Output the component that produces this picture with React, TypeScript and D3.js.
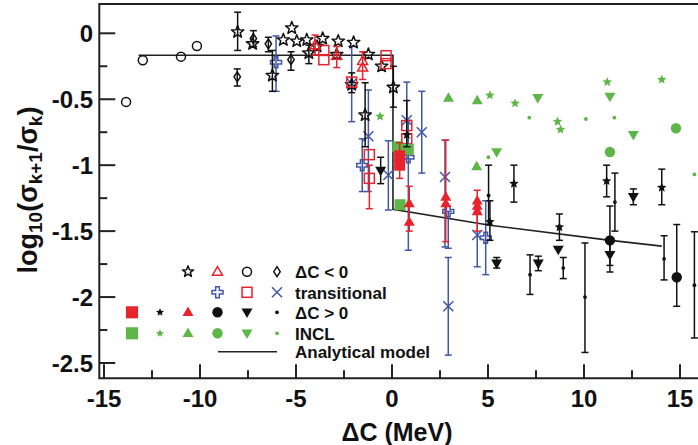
import React from 'react';
import * as d3 from 'd3';

type P = [number, number, number?, number?];

// ---- axis ticks ----
const xTicks = [-15, -10, -5, 0, 5, 10, 15];
const xTickLabels = ['-15', '-10', '-5', '0', '5', '10', '15'];
const xMinor = [-12.5, -7.5, -2.5, 2.5, 7.5, 12.5];
const yTicks = [0, -0.5, -1, -1.5, -2, -2.5];
const yTickLabels = ['0', '-0.5', '-1', '-1.5', '-2', '-2.5'];
const yMinor = [-0.25, -0.75, -1.25, -1.75, -2.25];

// ---- data: [x, y, errLow, errHigh] ----
// ΔC < 0
const negStar: P[] = [
  [-8.04, 0.01, -0.13, 0.16], [-7.26, -0.08], [-6.23, -0.32, -0.44, -0.13], [-5.66, -0.05],
  [-5.22, 0.04], [-4.96, -0.06], [-4.44, -0.05], [-4.33, -0.15, -0.23, -0.09], [-3.9, -0.1],
  [-3.61, -0.04], [-2.8, -0.06], [-2.88, -0.16], [-2.0, -0.07], [-2.1, -0.39, -0.45, -0.3],
  [-1.23, -0.16], [-0.54, -0.25], [0.07, -0.41, -0.56, -0.25], [-1.4, -0.62, -0.86, -0.375],
];
const negTri: P[] = [
  [-4.01, -0.09, -0.165, -0.013], [-2.88, -0.17, -0.26, -0.1], [-1.53, -0.21, -0.35, -0.14], [-1.53, -0.26],
];
const negCirc: P[] = [[-13.85, -0.52], [-12.98, -0.205], [-10.99, -0.177], [-10.16, -0.096]];
const negDiam: P[] = [
  [-8.06, -0.33, -0.4, -0.27], [-7.22, -0.04, -0.1, 0.02], [-6.44, -0.08, -0.14, -0.03], [-5.26, -0.2, -0.28, -0.14],
];
// transitional
const trPlus: P[] = [
  [-6.04, -0.22, -0.44, -0.02], [-1.55, -1.0, -1.2, -0.8], [0.85, -0.94, -1.645, -0.66],
  [2.93, -1.35, -1.63, -1.35], [4.88, -1.55, -1.83, -1.27],
];
const trSq: P[] = [
  [-3.55, -0.13], [-3.55, -0.2], [-2.1, -0.37], [-0.31, -0.17], [-0.31, -0.23], [-1.18, -0.92],
  [-1.18, -1.1, -1.33, -1.0], [0.77, -0.7], [0.77, -0.8],
];
const trX: P[] = [
  [-2.1, -0.38, -0.67, -0.1], [-1.23, -0.78, -1.2, -0.43], [-0.19, -1.075, -1.34, -0.815], [0.77, -0.66, -0.95, -0.37],
  [1.55, -0.75, -1.06, -0.44], [2.76, -1.09, -1.62, -0.81], [2.93, -2.07, -2.44, -1.7], [4.44, -1.53, -1.77, -1.35],
];
// ΔC > 0
const posSq: P[] = [[0.4, -0.93, -1.1, -0.83], [0.4, -1.0]];
const posStar: P[] = [
  [0.77, -0.77, -0.86, -0.51], [5.1, -1.43, -1.57, -1.27], [6.35, -1.14, -1.28, -1.0],
  [8.72, -1.47, -1.57, -1.37], [11.18, -1.12, -1.24, -1.0], [14.05, -1.17, -1.3, -1.03],
];
const posTri: P[] = [
  [0.9, -1.29, -1.5, -1.16], [0.9, -1.43], [2.8, -1.24, -1.58, -0.81], [2.8, -1.29],
  [4.44, -1.27, -1.5, -1.19], [4.44, -1.31], [4.44, -1.35],
];
const posCirc: P[] = [[11.35, -1.57, -1.81, -1.31], [14.83, -1.85, -2.07, -1.45]];
const posTriDown: P[] = [
  [-0.59, -1.04, -1.14, -0.94], [5.45, -1.745, -1.78, -1.7], [7.62, -1.745, -1.8, -1.69],
  [8.66, -1.64], [11.35, -1.68, -1.76, -1.55], [12.57, -1.24, -1.3, -1.18],
];
const posDot: P[] = [
  [5.03, -1.23, -1.45, -1.0], [7.19, -1.83, -1.98, -1.68], [8.92, -1.78, -1.86, -1.7],
  [10.05, -2.0, -2.42, -1.59], [11.61, -1.28, -1.5, -1.06], [14.17, -1.71, -1.87, -1.535],
  [15.75, -1.91, -2.31, -1.505],
];
// INCL
const inclSq: P[] = [[0.3, -0.86], [0.85, -0.88], [0.42, -1.3]];
const inclStar: P[] = [[-0.62, -0.63], [5.1, -0.47], [6.41, -0.53], [8.62, -0.67], [8.78, -0.73], [11.21, -0.37], [14.05, -0.35]];
const inclTri: P[] = [[2.94, -0.49], [4.44, -0.51], [4.41, -1.01]];
const inclCirc: P[] = [[11.35, -0.9], [14.79, -0.72]];
const inclTriDown: P[] = [[5.45, -0.9], [7.59, -0.49], [11.35, -0.48], [12.57, -0.77]];
const inclDot: P[] = [[5.02, -0.94], [7.15, -0.64], [10.1, -0.65], [11.58, -0.64], [15.75, -1.07]];
// analytical model
const modelX = [-13.2, 0.05, 0.05, 5.1, 11.27, 14.05];
const modelY = [-0.167, -0.167, -1.335, -1.455, -1.568, -1.614];

const RED = '#e8232b';
const BLUE = '#3f57a6';
const GREEN = '#5fb648';
const BLACK = '#111';
const FONT = '"Liberation Sans", Arial, Helvetica, sans-serif';

const X = d3.scaleLinear().domain([-15, 15]).range([104, 680]);
const Y = d3.scaleLinear().domain([0, -2.5]).range([33.3, 363]);

const L = 99.3, T = 4, B = 378.3, R = 699;

function starPath(Rad: number, ratio = 0.42) {
  const pts: string[] = [];
  for (let i = 0; i < 10; i++) {
    const r = i % 2 ? Rad * ratio : Rad;
    const a = -Math.PI / 2 + (i * Math.PI) / 5;
    pts.push(`${(r * Math.cos(a)).toFixed(2)},${(r * Math.sin(a)).toFixed(2)}`);
  }
  return 'M' + pts.join('L') + 'Z';
}
function triPath(s: number, down = false) {
  const h = s * 0.866;
  const k = down ? -1 : 1;
  return `M0,${(-k * h * 0.6).toFixed(2)}L${s / 2},${(k * h * 0.4).toFixed(2)}L${-s / 2},${(k * h * 0.4).toFixed(2)}Z`;
}
function plusPath(l: number, a: number) {
  return `M${-a},${-l}H${a}V${-a}H${l}V${a}H${a}V${l}H${-a}V${a}H${-l}V${-a}H${-a}Z`;
}

type Kind = 'starOpen' | 'triOpen' | 'circOpen' | 'diam' | 'plus' | 'sqOpen' | 'x' | 'sqFill' | 'starFill' | 'triFill' | 'circFill' | 'triDown' | 'dot';

function Marker({ kind, x, y, color, s = 1 }: { kind: Kind; x: number; y: number; color: string; s?: number }) {
  const t = `translate(${x},${y})`;
  const sw = 1.5;
  switch (kind) {
    case 'starOpen':
      return <path transform={t} d={starPath(6.5 * s)} fill="none" stroke={color} strokeWidth={sw} strokeLinejoin="round" />;
    case 'triOpen':
      return <path transform={t} d={triPath(10 * s)} fill="none" stroke={color} strokeWidth={sw} />;
    case 'circOpen':
      return <circle cx={x} cy={y} r={4.5 * s} fill="none" stroke={color} strokeWidth={sw} />;
    case 'diam':
      return <path transform={t} d={`M0,${-5 * s}L${3.2 * s},0L0,${5 * s}L${-3.2 * s},0Z`} fill="none" stroke={color} strokeWidth={sw} />;
    case 'plus':
      return <path transform={t} d={plusPath(5.5 * s, 1.8 * s)} fill="none" stroke={color} strokeWidth={sw} />;
    case 'sqOpen':
      return <rect x={x - 5 * s} y={y - 5 * s} width={10 * s} height={10 * s} fill="none" stroke={color} strokeWidth={sw} />;
    case 'x':
      return <path transform={t} d={`M${-5 * s},${-5 * s}L${5 * s},${5 * s}M${-5 * s},${5 * s}L${5 * s},${-5 * s}`} stroke={color} strokeWidth={sw} />;
    case 'sqFill':
      return <rect x={x - 5.5 * s} y={y - 5.5 * s} width={11 * s} height={11 * s} fill={color} />;
    case 'starFill':
      return <path transform={t} d={starPath(5 * s, 0.45)} fill={color} />;
    case 'triFill':
      return <path transform={t} d={triPath(11 * s)} fill={color} />;
    case 'circFill':
      return <circle cx={x} cy={y} r={5.2 * s} fill={color} />;
    case 'triDown':
      return <path transform={t} d={triPath(11 * s, true)} fill={color} />;
    case 'dot':
      return <circle cx={x} cy={y} r={1.9 * s} fill={color} />;
  }
  return null;
}

function Series({ data, kind, color, barColor }: { data: P[]; kind: Kind; color: string; barColor?: string }) {
  const bc = barColor || color;
  return (
    <g>
      {data.map((d, i) =>
        d[2] !== undefined && d[3] !== undefined ? (
          <g key={'e' + i} stroke={bc} strokeWidth={1.5}>
            <line x1={X(d[0])} x2={X(d[0])} y1={Y(d[2] as number)} y2={Y(d[3] as number)} />
            <line x1={X(d[0]) - 3.5} x2={X(d[0]) + 3.5} y1={Y(d[2] as number)} y2={Y(d[2] as number)} />
            <line x1={X(d[0]) - 3.5} x2={X(d[0]) + 3.5} y1={Y(d[3] as number)} y2={Y(d[3] as number)} />
          </g>
        ) : null
      )}
      {data.map((d, i) => (
        <Marker key={'m' + i} kind={kind} x={X(d[0])} y={Y(d[1])} color={color} />
      ))}
    </g>
  );
}

export default function App() {
  const modelLine = d3.line<number>().x((_, i) => X(modelX[i])).y((_, i) => Y(modelY[i]));
  const legCols = [132, 160, 188, 217.5, 247, 277];
  const legRows = [271.7, 292.3, 312.3, 333.3, 351.7];
  const legText = ['\u0394C < 0', 'transitional', '\u0394C > 0', 'INCL', 'Analytical model'];
  return (
    <svg width={698} height={445} style={{ position: 'absolute', left: 0, top: 0, background: '#fff' }} fontFamily={FONT}>
      <rect x={0} y={0} width={698} height={445} fill="#fff" />
      {/* frame */}
      <path d={`M${R},${T}H${L}V${B}H${R}`} fill="none" stroke="#222" strokeWidth={2} />
      {/* ticks */}
      {yTicks.map((v) => (
        <line key={'yt' + v} x1={L} x2={L + 16} y1={Y(v)} y2={Y(v)} stroke="#222" strokeWidth={2} />
      ))}
      {yMinor.map((v) => (
        <line key={'ym' + v} x1={L} x2={L + 8} y1={Y(v)} y2={Y(v)} stroke="#222" strokeWidth={2} />
      ))}
      {xTicks.map((v) => (
        <line key={'xt' + v} x1={X(v)} x2={X(v)} y1={B} y2={B - 14} stroke="#222" strokeWidth={2} />
      ))}
      {xMinor.map((v) => (
        <line key={'xm' + v} x1={X(v)} x2={X(v)} y1={B} y2={B - 8} stroke="#222" strokeWidth={2} />
      ))}
      {yTicks.map((v, i) => (
        <text key={'yl' + v} x={93} y={Y(v) + 8.5} textAnchor="end" fontSize={24} fontWeight="bold" fill={BLACK}>
          {yTickLabels[i]}
        </text>
      ))}
      {xTicks.map((v, i) => (
        <text key={'xl' + v} x={X(v)} y={407} textAnchor="middle" fontSize={24} fontWeight="bold" fill={BLACK}>
          {xTickLabels[i]}
        </text>
      ))}
      <text x={397} y={441} textAnchor="middle" fontSize={25} fontWeight="bold" fill={BLACK}>
        {'\u0394C (MeV)'}
      </text>
      <text transform="translate(37,190) rotate(-90)" textAnchor="middle" fontSize={27} fontWeight="bold" fill={BLACK}>
        log<tspan dy={5} fontSize={19}>10</tspan>
        <tspan dy={-5}>(σ</tspan>
        <tspan dy={5} fontSize={19}>k+1</tspan>
        <tspan dy={-5}>/σ</tspan>
        <tspan dy={5} fontSize={19}>k</tspan>
        <tspan dy={-5}>)</tspan>
      </text>

      {/* model */}
      <path d={modelLine(modelX) || ''} fill="none" stroke="#222" strokeWidth={1.6} />

      {/* data */}
      <Series data={negCirc} kind="circOpen" color={BLACK} />
      <Series data={negDiam} kind="diam" color={BLACK} />
      <Series data={trPlus} kind="plus" color={BLUE} />
      <Series data={trX} kind="x" color={BLUE} />
      <Series data={negStar} kind="starOpen" color={BLACK} />
      <Series data={negTri} kind="triOpen" color={RED} />
      <Series data={trSq} kind="sqOpen" color={RED} />
      <Series data={inclSq} kind="sqFill" color={GREEN} />
      <Series data={posSq} kind="sqFill" color={RED} />
      <Series data={posTri} kind="triFill" color={RED} />
      <Series data={posStar} kind="starFill" color={BLACK} />
      <Series data={posTriDown} kind="triDown" color={BLACK} />
      <Series data={posCirc} kind="circFill" color={BLACK} />
      <Series data={posDot} kind="dot" color={BLACK} />
      <Series data={inclStar} kind="starFill" color={GREEN} />
      <Series data={inclTri} kind="triFill" color={GREEN} />
      <Series data={inclCirc} kind="circFill" color={GREEN} />
      <Series data={inclTriDown} kind="triDown" color={GREEN} />
      <Series data={inclDot} kind="dot" color={GREEN} />

      {/* legend */}
      <g>
        <Marker kind="starOpen" x={legCols[2]} y={legRows[0]} color={BLACK} s={0.9} />
        <Marker kind="triOpen" x={legCols[3]} y={legRows[0]} color={RED} />
        <Marker kind="circOpen" x={legCols[4]} y={legRows[0]} color={BLACK} />
        <Marker kind="diam" x={legCols[5]} y={legRows[0]} color={BLACK} />
        <Marker kind="plus" x={legCols[3]} y={legRows[1]} color={BLUE} />
        <Marker kind="sqOpen" x={legCols[4]} y={legRows[1]} color={RED} />
        <Marker kind="x" x={legCols[5]} y={legRows[1]} color={BLUE} />
        {(['sqFill', 'starFill', 'triFill', 'circFill', 'triDown', 'dot'] as Kind[]).map((k, i) => (
          <Marker key={'l3' + i} kind={k} x={legCols[i]} y={legRows[2]} color={k === 'sqFill' || k === 'triFill' ? RED : BLACK} s={k === 'sqFill' ? 1.1 : k === 'starFill' ? 0.85 : 1} />
        ))}
        {(['sqFill', 'starFill', 'triFill', 'circFill', 'triDown', 'dot'] as Kind[]).map((k, i) => (
          <Marker key={'l4' + i} kind={k} x={legCols[i]} y={legRows[3]} color={GREEN} s={k === 'sqFill' ? 1.1 : k === 'starFill' ? 0.85 : 1} />
        ))}
        <line x1={218} x2={277} y1={legRows[4]} y2={legRows[4]} stroke="#222" strokeWidth={1.6} />
        {legText.map((t, i) => (
          <text key={'lt' + i} x={295} y={legRows[i] + 6.5} fontSize={17} fontWeight="bold" fill={BLACK}>
            {t}
          </text>
        ))}
      </g>
    </svg>
  );
}
